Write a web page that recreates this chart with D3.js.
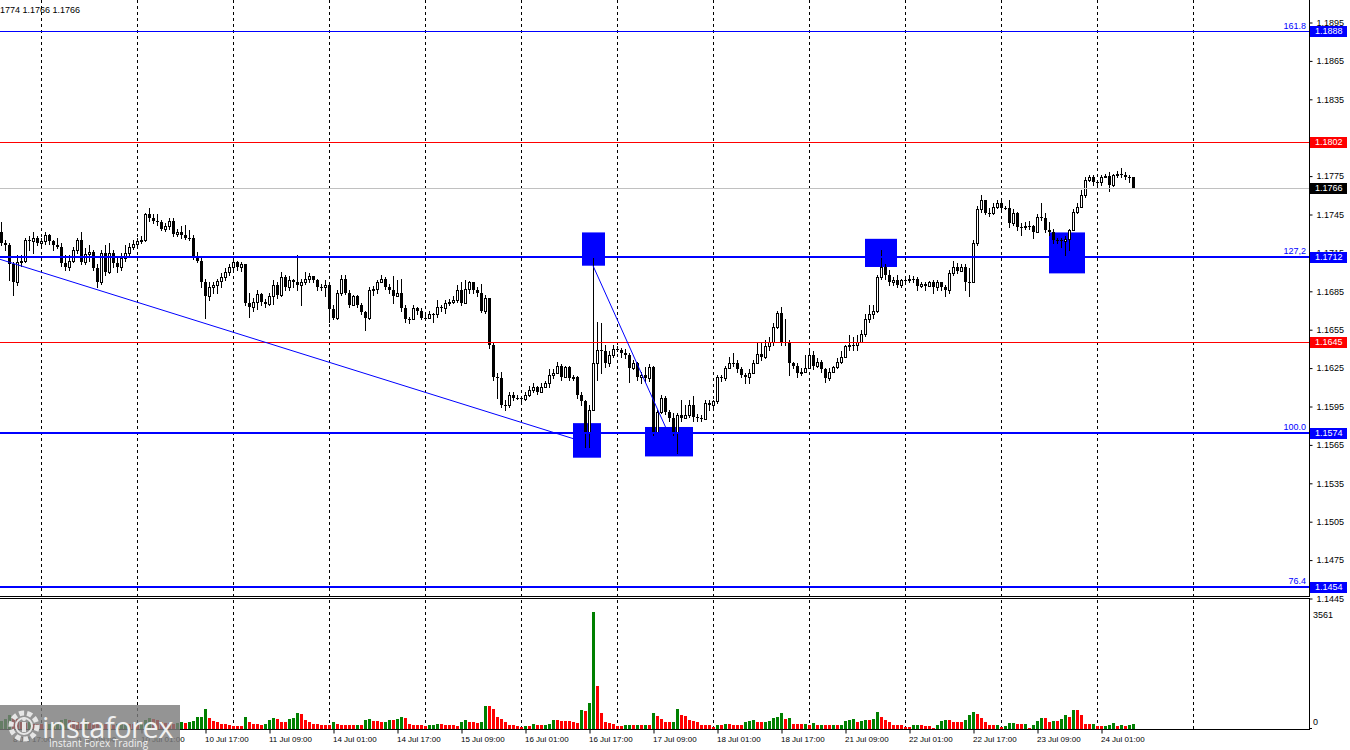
<!DOCTYPE html>
<html><head><meta charset="utf-8">
<script src="https://cdn.jsdelivr.net/npm/d3@7"></script>
<style>body{margin:0;background:#fff;overflow:hidden}svg{display:block;font-family:"Liberation Sans",Arial,sans-serif}</style>
</head><body><svg id="c" width="1350" height="750"></svg>
<script>
// ---------- DATA ----------
const firstOpen = 1.1731;
const closes = [
1.1723,1.1721,1.1706,1.1692,1.1708,1.1709,1.1725,1.1724,1.1727,1.1723,
1.1724,1.1729,1.1724,1.1721,1.1720,1.1707,1.1704,1.1709,1.1717,1.1725,
1.1708,1.1714,1.1716,1.1703,1.1692,1.1715,1.1700,1.1715,1.1707,1.1704,
1.1711,1.1715,1.1720,1.1722,1.1724,1.1725,1.1745,1.1742,1.1740,1.1739,
1.1734,1.1736,1.1740,1.1730,1.1731,1.1729,1.1727,1.1727,1.1712,1.1709,
1.1692,1.1681,1.1688,1.1690,1.1693,1.1696,1.1700,1.1704,1.1708,1.1704,
1.1706,1.1676,1.1673,1.1677,1.1683,1.1677,1.1675,1.1681,1.1690,1.1682,
1.1696,1.1688,1.1694,1.1692,1.1690,1.1692,1.1695,1.1697,1.1694,1.1688,
1.1688,1.1690,1.1671,1.1664,1.1684,1.1695,1.1684,1.1674,1.1681,1.1674,
1.1669,1.1664,1.1686,1.1687,1.1692,1.1695,1.1688,1.1686,1.1681,1.1684,
1.1672,1.1663,1.1663,1.1672,1.1670,1.1664,1.1664,1.1667,1.1667,1.1673,
1.1672,1.1676,1.1677,1.1678,1.1686,1.1676,1.1687,1.1692,1.1686,1.1684,
1.1670,1.1680,1.1643,1.1618,1.1617,1.1596,1.1596,1.1604,1.1602,1.1602,
1.1601,1.1604,1.1608,1.1610,1.1606,1.1610,1.1613,1.1620,1.1621,1.1627,
1.1618,1.1626,1.1617,1.1618,1.1604,1.1599,1.1574,1.1592,1.1629,1.1639,
1.1638,1.1629,1.1635,1.1640,1.1639,1.1637,1.1635,1.1625,1.1629,1.1618,
1.1620,1.1617,1.1626,1.1575,1.1591,1.1602,1.1591,1.1586,1.1575,1.1588,
1.1586,1.1588,1.1596,1.1587,1.1586,1.1585,1.1598,1.1596,1.1599,1.1618,
1.1617,1.1625,1.1629,1.1629,1.1624,1.1620,1.1618,1.1621,1.1629,1.1636,
1.1634,1.1642,1.1645,1.1657,1.1668,1.1645,1.1645,1.1629,1.1627,1.1621,
1.1622,1.1625,1.1635,1.1627,1.1630,1.1624,1.1617,1.1622,1.1626,1.1630,
1.1634,1.1642,1.1643,1.1643,1.1645,1.1652,1.1663,1.1667,1.1670,1.1696,
1.1704,1.1698,1.1692,1.1694,1.1690,1.1694,1.1694,1.1695,1.1695,1.1689,
1.1691,1.1689,1.1692,1.1688,1.1692,1.1688,1.1686,1.1699,1.1704,1.1701,
1.1704,1.1692,1.1692,1.1723,1.1749,1.1756,1.1746,1.1746,1.1751,1.1754,
1.1750,1.1750,1.1738,1.1746,1.1735,1.1735,1.1736,1.1736,1.1731,1.1743,
1.1742,1.1733,1.1731,1.1725,1.1725,1.1724,1.1726,1.1733,1.1747,1.1751,
1.1760,1.1772,1.1774,1.1770,1.1770,1.1774,1.1775,1.1768,1.1776,1.1777,
1.1776,1.1774,1.1774,1.1766];
const highs = [
1.1739,1.1725,1.1723,1.1708,1.1713,1.1713,1.1727,1.1728,1.1731,1.1728,
1.1727,1.1731,1.1730,1.1725,1.1727,1.1723,1.1713,1.1713,1.1720,1.1727,
1.1731,1.1719,1.1721,1.1717,1.1706,1.1717,1.1721,1.1723,1.1717,1.1712,
1.1715,1.1721,1.1723,1.1725,1.1727,1.1728,1.1746,1.1750,1.1745,1.1745,
1.1741,1.1738,1.1742,1.1742,1.1734,1.1736,1.1737,1.1733,1.1729,1.1716,
1.1711,1.1695,1.1692,1.1692,1.1695,1.1699,1.1703,1.1706,1.1709,1.1709,
1.1708,1.1706,1.1684,1.1680,1.1686,1.1684,1.1679,1.1684,1.1694,1.1692,
1.1700,1.1698,1.1697,1.1695,1.1713,1.1695,1.1700,1.1699,1.1697,1.1695,
1.1691,1.1694,1.1678,1.1674,1.1686,1.1698,1.1698,1.1686,1.1682,1.1682,
1.1676,1.1670,1.1688,1.1689,1.1694,1.1698,1.1696,1.1691,1.1697,1.1694,
1.1695,1.1674,1.1665,1.1674,1.1673,1.1672,1.1667,1.1670,1.1668,1.1678,
1.1674,1.1678,1.1679,1.1681,1.1690,1.1692,1.1694,1.1693,1.1692,1.1688,
1.1691,1.1682,1.1678,1.1645,1.1621,1.1622,1.1600,1.1606,1.1606,1.1604,
1.1603,1.1606,1.1611,1.1613,1.1611,1.1613,1.1615,1.1624,1.1624,1.1630,
1.1628,1.1627,1.1627,1.1620,1.1619,1.1606,1.1600,1.1596,1.1711,1.1661,
1.1660,1.1643,1.1638,1.1643,1.1642,1.1641,1.1640,1.1637,1.1631,1.1630,
1.1622,1.1626,1.1628,1.1627,1.1592,1.1604,1.1603,1.1592,1.1590,1.1590,
1.1600,1.1596,1.1600,1.1603,1.1589,1.1588,1.1600,1.1600,1.1600,1.1620,
1.1620,1.1627,1.1634,1.1637,1.1631,1.1626,1.1621,1.1624,1.1631,1.1645,
1.1645,1.1647,1.1649,1.1660,1.1670,1.1673,1.1663,1.1647,1.1630,1.1629,
1.1625,1.1635,1.1638,1.1638,1.1633,1.1631,1.1625,1.1625,1.1627,1.1633,
1.1638,1.1643,1.1651,1.1649,1.1651,1.1655,1.1667,1.1674,1.1674,1.1698,
1.1717,1.1706,1.1702,1.1696,1.1698,1.1695,1.1697,1.1698,1.1697,1.1696,
1.1692,1.1692,1.1693,1.1694,1.1694,1.1692,1.1690,1.1702,1.1709,1.1707,
1.1706,1.1706,1.1703,1.1725,1.1752,1.1760,1.1756,1.1750,1.1754,1.1756,
1.1756,1.1752,1.1756,1.1749,1.1747,1.1738,1.1739,1.1740,1.1737,1.1745,
1.1754,1.1746,1.1739,1.1734,1.1727,1.1727,1.1728,1.1734,1.1749,1.1754,
1.1764,1.1774,1.1776,1.1776,1.1772,1.1776,1.1777,1.1778,1.1777,1.1779,
1.1781,1.1778,1.1776,1.1774];
const lows = [
1.1721,1.1717,1.1694,1.1682,1.1690,1.1705,1.1708,1.1717,1.1715,1.1721,
1.1720,1.1722,1.1722,1.1717,1.1719,1.1705,1.1702,1.1702,1.1708,1.1715,
1.1706,1.1706,1.1709,1.1702,1.1688,1.1691,1.1698,1.1699,1.1704,1.1700,
1.1702,1.1709,1.1713,1.1718,1.1720,1.1723,1.1724,1.1740,1.1738,1.1737,
1.1733,1.1732,1.1734,1.1728,1.1728,1.1727,1.1726,1.1725,1.1710,1.1708,
1.1688,1.1664,1.1678,1.1684,1.1684,1.1688,1.1694,1.1698,1.1702,1.1702,
1.1701,1.1674,1.1665,1.1670,1.1671,1.1674,1.1673,1.1674,1.1675,1.1680,
1.1681,1.1686,1.1686,1.1688,1.1686,1.1674,1.1691,1.1692,1.1692,1.1686,
1.1686,1.1681,1.1661,1.1663,1.1663,1.1682,1.1683,1.1673,1.1674,1.1673,
1.1667,1.1655,1.1663,1.1682,1.1684,1.1692,1.1687,1.1684,1.1676,1.1681,
1.1670,1.1661,1.1660,1.1663,1.1667,1.1663,1.1663,1.1664,1.1661,1.1665,
1.1670,1.1668,1.1674,1.1676,1.1677,1.1674,1.1677,1.1684,1.1684,1.1681,
1.1669,1.1668,1.1641,1.1616,1.1602,1.1595,1.1592,1.1595,1.1600,1.1601,
1.1599,1.1600,1.1603,1.1606,1.1605,1.1606,1.1610,1.1610,1.1617,1.1621,
1.1616,1.1618,1.1616,1.1616,1.1602,1.1596,1.1563,1.1563,1.1592,1.1616,
1.1621,1.1626,1.1627,1.1634,1.1638,1.1634,1.1633,1.1614,1.1624,1.1616,
1.1613,1.1614,1.1615,1.1573,1.1575,1.1590,1.1589,1.1584,1.1573,1.1559,
1.1584,1.1586,1.1587,1.1584,1.1584,1.1584,1.1585,1.1592,1.1595,1.1598,
1.1615,1.1616,1.1625,1.1627,1.1622,1.1618,1.1613,1.1613,1.1621,1.1629,
1.1631,1.1633,1.1639,1.1643,1.1656,1.1643,1.1643,1.1620,1.1625,1.1618,
1.1620,1.1624,1.1631,1.1624,1.1626,1.1622,1.1614,1.1616,1.1622,1.1625,
1.1629,1.1634,1.1639,1.1639,1.1639,1.1645,1.1650,1.1661,1.1664,1.1669,
1.1695,1.1695,1.1690,1.1690,1.1688,1.1688,1.1692,1.1692,1.1692,1.1686,
1.1688,1.1686,1.1689,1.1684,1.1686,1.1686,1.1681,1.1684,1.1698,1.1699,
1.1701,1.1686,1.1681,1.1692,1.1721,1.1747,1.1745,1.1744,1.1745,1.1750,
1.1749,1.1749,1.1735,1.1737,1.1733,1.1729,1.1734,1.1734,1.1727,1.1731,
1.1741,1.1731,1.1729,1.1723,1.1723,1.1720,1.1713,1.1717,1.1733,1.1746,
1.1751,1.1759,1.1771,1.1768,1.1768,1.1768,1.1774,1.1763,1.1767,1.1774,
1.1774,1.1773,1.1770,1.1766];
const volumes = [
250,300,420,380,300,220,180,200,160,150,
140,130,150,170,200,260,300,280,250,220,
210,230,190,170,150,160,140,130,120,140,
150,170,160,140,130,150,280,330,300,260,
220,190,170,160,180,225,194,205,256,358,
379,614,348,246,205,143,140,133,92,90,
88,368,205,143,140,133,153,286,327,297,
225,222,297,348,501,460,276,205,153,143,
133,130,123,215,143,133,131,130,129,132,
130,276,297,246,235,225,228,276,272,297,
358,327,153,123,113,110,92,115,123,153,
150,130,123,113,92,205,276,215,213,194,
225,706,685,614,379,297,225,133,130,92,
51,92,90,153,123,113,133,143,276,272,
256,246,244,215,194,583,552,788,3561,1320,
501,205,194,143,92,90,113,133,130,131,
129,132,123,501,399,307,205,203,225,614,
430,399,276,256,225,133,130,113,72,133,
113,153,143,133,131,130,225,246,276,215,
205,212,246,327,379,501,317,327,143,141,
140,153,133,194,123,133,130,113,133,113,
123,246,276,297,215,246,276,272,297,522,
379,276,215,133,131,130,72,70,113,123,
113,92,90,31,133,256,276,274,215,213,
212,276,430,522,460,327,205,133,113,133,
72,102,174,194,153,150,152,31,133,246,
327,325,225,256,255,307,440,379,583,580,
430,153,150,152,102,92,102,133,174,102,
113,100,133,153];
const dateLabels = ["8 Jul 17:00","9 Jul 09:00","10 Jul 01:00","10 Jul 17:00","11 Jul 09:00","14 Jul 01:00","14 Jul 17:00","15 Jul 09:00","16 Jul 01:00","16 Jul 17:00","17 Jul 09:00","18 Jul 01:00","18 Jul 17:00","21 Jul 09:00","22 Jul 01:00","22 Jul 17:00","23 Jul 09:00","24 Jul 01:00"];
const dateLabelIdx = [3,19,35,51,67,83,99,115,131,147,163,179,195,211,227,243,259,275];
const dayStartIdx = [10,34,58,82,106,130,154,178,202,226,250,274,298];
const priceTicks = [1.1895,1.1865,1.1835,1.1775,1.1745,1.1715,1.1685,1.1655,1.1625,1.1595,1.1565,1.1535,1.1505,1.1475,1.1445];
const levelPrices = [1.1888,1.1802,1.1766,1.1712,1.1645,1.1574,1.1454];
const levelKinds  = ["fib","res","bid","fib","res","fib","fib"];
const fibTexts    = ["161.8","","","127,2","","100.0","76.4"];
const boxIdx0 = [143,145.25,161,216,262];
const boxIdx1 = [150,151,173,224,271];
const boxTop  = [1.1582,1.1731,1.1579,1.1726,1.1731];
const boxBot  = [1.1555,1.1705,1.1556,1.1704,1.1699];
const trendIdx = [-0.25,146];
const trendPrice = [1.1710,1.1567];
const zigIdx = [148,169];
const zigPrice = [1.1705,1.1559];
const volMax = 3561;
const headerText = "1774 1.1766 1.1766";

// ---------- DRAW ----------
const svg = d3.select('#c');
const N = closes.length;
const opens = closes.map((c,i)=> i===0 ? firstOpen : closes[i-1]);
const x = d3.scaleLinear().domain([0,N-1]).range([1,1+4*(N-1)]);
const y = d3.scaleLinear().domain([1.1445,1.1895]).range([598.5,22.5]);
const yv = d3.scaleLinear().domain([0,volMax]).range([729,612]);
const R = 1309;
const mainBottom = 596;
const volTop = 599, volBottom = 729;

const defs = svg.append('defs');
defs.append('clipPath').attr('id','cm').append('rect').attr('x',0).attr('y',0).attr('width',R).attr('height',mainBottom);
defs.append('clipPath').attr('id','cv').append('rect').attr('x',0).attr('y',volTop).attr('width',R).attr('height',volBottom-volTop);

// grid
const grid = svg.append('g');
dayStartIdx.forEach(i=>{
  const gx = Math.round(x(i))+0.5;
  if (gx < R) grid.append('line').attr('x1',gx).attr('x2',gx).attr('y1',0).attr('y2',volBottom)
    .attr('stroke','#000').attr('stroke-width',1).attr('stroke-dasharray','3,3');
});

const main = svg.append('g').attr('clip-path','url(#cm)');
boxIdx0.forEach((b,k)=>{
  const x0 = x(b), x1 = x(boxIdx1[k]);
  main.append('rect').attr('x',x0).attr('y',y(boxTop[k])).attr('width',x1-x0).attr('height',y(boxBot[k])-y(boxTop[k])).attr('fill','#0000ff');
});

// candles
const cg = main.append('g');
closes.forEach((c,i)=>{
  const o = opens[i];
  const h = Math.max(highs[i],o,c), l = Math.min(lows[i],o,c);
  const cx = Math.round(x(i));
  cg.append('line').attr('x1',cx+0.5).attr('x2',cx+0.5).attr('y1',Math.round(y(h))).attr('y2',Math.round(y(l))+1).attr('stroke','#000').attr('stroke-width',1);
  const top = Math.round(y(Math.max(o,c))), bot = Math.round(y(Math.min(o,c)));
  if (c > o) {
    cg.append('rect').attr('x',cx-0.5).attr('y',top+0.5).attr('width',2).attr('height',Math.max(bot-top,1)).attr('fill','#fff').attr('stroke','#000').attr('stroke-width',1);
  } else {
    cg.append('rect').attr('x',cx-1).attr('y',top).attr('width',3).attr('height',Math.max(bot-top,1)).attr('fill','#000');
  }
});

// levels
const lvlColor = {fib:'#0000ff',res:'#ff0000',bid:'#c0c0c0'};
levelPrices.forEach((p,k)=>{
  const kind = levelKinds[k];
  const thick = kind==='fib' && k!==0 ? 2 : 1;
  const ly = thick===2 ? Math.round(y(p)) : Math.round(y(p))+0.5;
  main.append('line').attr('x1',0).attr('x2',R).attr('y1',ly).attr('y2',ly).attr('stroke',lvlColor[kind]).attr('stroke-width',thick);
  if (fibTexts[k]) main.append('text').attr('x',R-3).attr('y',ly-3).attr('text-anchor','end').attr('font-size',9).attr('fill','#0000ff').text(fibTexts[k]);
});
main.append('line').attr('x1',x(trendIdx[0])).attr('y1',y(trendPrice[0])).attr('x2',x(trendIdx[1])).attr('y2',y(trendPrice[1])).attr('stroke','#0000ff').attr('stroke-width',1);
main.append('line').attr('x1',x(zigIdx[0])).attr('y1',y(zigPrice[0])).attr('x2',x(zigIdx[1])).attr('y2',y(zigPrice[1])).attr('stroke','#0000ff').attr('stroke-width',1);

// volumes
const vg = svg.append('g').attr('clip-path','url(#cv)');
volumes.forEach((v,i)=>{
  const up = i===0 ? true : v > volumes[i-1];
  const cx = Math.round(x(i));
  const top = Math.round(yv(v));
  vg.append('rect').attr('x',cx-1).attr('y',top).attr('width',3).attr('height',volBottom-top).attr('fill', up ? '#008000' : '#ff0000');
});

// frames
svg.append('line').attr('x1',R+0.5).attr('x2',R+0.5).attr('y1',0).attr('y2',mainBottom+1).attr('stroke','#000');
svg.append('line').attr('x1',0).attr('x2',R+1).attr('y1',mainBottom+0.5).attr('y2',mainBottom+0.5).attr('stroke','#000');
svg.append('line').attr('x1',0).attr('x2',R+1).attr('y1',volTop-0.5).attr('y2',volTop-0.5).attr('stroke','#000');
svg.append('line').attr('x1',R+0.5).attr('x2',R+0.5).attr('y1',volTop-1).attr('y2',volBottom+1).attr('stroke','#000');
svg.append('line').attr('x1',0).attr('x2',R+1).attr('y1',volBottom+0.5).attr('y2',volBottom+0.5).attr('stroke','#000');

// price axis
const yAxis = d3.axisRight(y).tickValues(priceTicks).tickSize(3).tickPadding(4).tickFormat(d3.format('.4f'));
const ya = svg.append('g').attr('transform',`translate(${R+0.5},0)`).call(yAxis);
ya.select('.domain').remove();
ya.selectAll('text').attr('font-size',9).attr('font-family','"Liberation Sans",Arial,sans-serif').attr('fill','#000');
ya.selectAll('line').attr('stroke','#000');

// volume axis labels
svg.append('text').attr('x',R+4).attr('y',yv(volMax)+3).attr('dy','0.35em').attr('font-size',9).text(String(volMax));
svg.append('text').attr('x',R+4).attr('y',yv(0)-7).attr('dy','0.35em').attr('font-size',9).text('0');
svg.append('line').attr('x1',R+1).attr('x2',R+3).attr('y1',volBottom-0.5).attr('y2',volBottom-0.5).attr('stroke','#000');

// level tags
const tagColor = {fib:'#0000ff',res:'#ff0000',bid:'#000000'};
levelPrices.forEach((p,k)=>{
  const ty = Math.round(y(p));
  svg.append('rect').attr('x',R+1).attr('y',ty-5).attr('width',37).attr('height',11).attr('fill',tagColor[levelKinds[k]]);
  svg.append('text').attr('x',R+6).attr('y',ty).attr('dy','0.35em').attr('font-size',9).attr('fill','#fff').text(p.toFixed(4));
});

// time axis
const xAxis = d3.axisBottom(x).tickValues(dateLabelIdx).tickSize(4).tickPadding(3).tickFormat((d,k)=>dateLabels[k]);
const xa = svg.append('g').attr('transform',`translate(0.5,${volBottom+0.5})`).call(xAxis);
xa.select('.domain').remove();
xa.selectAll('text').attr('text-anchor','start').attr('x',-1).attr('font-size',8).attr('font-family','"Liberation Sans",Arial,sans-serif').attr('fill','#000');
xa.selectAll('line').attr('stroke','#000');

// header
svg.append('text').attr('x',0).attr('y',13).attr('font-size',9).attr('fill','#000').text(headerText);

// watermark
const wm = svg.append('g');
wm.append('rect').attr('x',0).attr('y',705).attr('width',180).attr('height',45).attr('fill','#7c7c7c').attr('opacity',0.82);
const gear = wm.append('g').attr('transform','translate(24,726)');
gear.append('circle').attr('r',13).attr('fill','none').attr('stroke','#e6e6e6').attr('stroke-width',5).attr('stroke-dasharray','5,3');
gear.append('circle').attr('r',8).attr('fill','none').attr('stroke','#e6e6e6').attr('stroke-width',2);
gear.append('rect').attr('x',-2).attr('y',-4).attr('width',4).attr('height',10).attr('fill','#e6e6e6');
gear.append('circle').attr('cx',0).attr('cy',-7).attr('r',2).attr('fill','#e6e6e6');
wm.append('text').attr('x',42).attr('y',738).attr('font-size',29).attr('fill','#f0f0f0').attr('font-family','"Open Sans","DejaVu Sans",sans-serif').attr('letter-spacing',-0.5).text('instaforex');
wm.append('text').attr('x',49).attr('y',747).attr('font-size',10).attr('fill','#f0f0f0').attr('font-family','"Open Sans","DejaVu Sans",sans-serif').text('Instant Forex Trading');
</script></body></html>
